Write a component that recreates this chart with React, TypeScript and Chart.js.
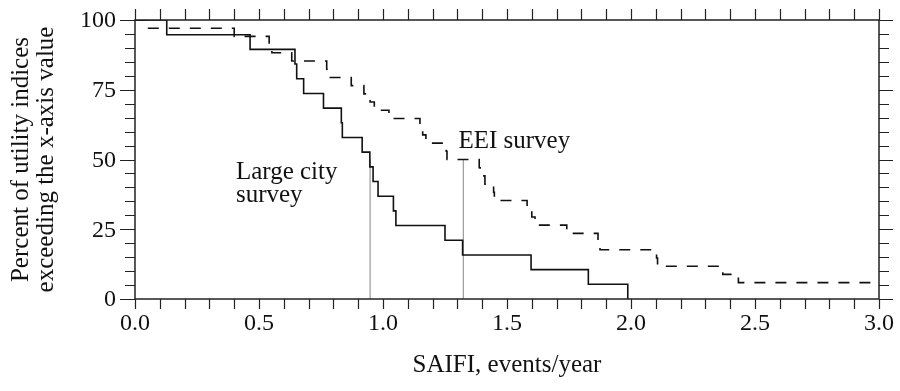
import React, { useEffect, useRef } from 'react';
import { Chart, registerables } from 'chart.js';

Chart.register(...registerables);

const FONT = '"Liberation Serif", "Times New Roman", serif';

// Large city survey: SAIFI value where the curve steps, and percent exceeding after the step
const largeCityX = [0, 0.128, 0.464, 0.645, 0.652, 0.680, 0.760, 0.832, 0.836, 0.916, 0.947, 0.960, 0.980, 1.042, 1.052, 1.250, 1.321, 1.597, 1.828, 1.987];
const largeCityPct = [100, 94.74, 89.47, 84.21, 78.95, 73.68, 68.42, 63.16, 57.89, 52.63, 47.37, 42.11, 36.84, 31.58, 26.32, 21.05, 15.79, 10.53, 5.26, 0];

// EEI survey
const eeiX = [0, 0.05, 0.40, 0.541, 0.552, 0.632, 0.773, 0.780, 0.872, 0.923, 0.948, 0.965, 1.024, 1.149, 1.160, 1.173, 1.255, 1.258, 1.388, 1.392, 1.411, 1.446, 1.449, 1.581, 1.600, 1.613, 1.741, 1.867, 1.875, 2.103, 2.107, 2.370, 2.433, 3.0];
const eeiPct = [100, 97.06, 94.12, 91.18, 88.24, 85.29, 82.35, 79.41, 76.47, 73.53, 70.59, 67.65, 64.71, 61.76, 58.82, 55.88, 52.94, 50.0, 47.06, 44.12, 41.18, 38.24, 35.29, 32.35, 29.41, 26.47, 23.53, 20.59, 17.65, 14.71, 11.76, 8.82, 5.88, 5.88];

// medians (grey markers up to 50 %)
const medianX = [0.948, 1.324];
const medianPct = 50;

// axis tick steps and labelled ticks
const xMinorStep = 0.1;
const yMinorStep = 5;
const xTickLabels = ['0.0', '0.5', '1.0', '1.5', '2.0', '2.5', '3.0'];
const yTickLabels = ['0', '25', '50', '75', '100'];

// text labels in data coordinates (baseline-left)
const labelTexts = ['Large city', 'survey', 'EEI survey'];
const labelX = [0.407, 0.407, 1.304];
const labelY = [43.0, 34.8, 54.0];

const xTitle = 'SAIFI, events/year';
const yTitle = ['Percent of utility indices', 'exceeding the x-axis value'];

const framePlugin = {
  id: 'frame',
  afterDraw(chart: any) {
    const { ctx, chartArea: a } = chart;
    const xs = chart.scales.x;
    const ys = chart.scales.y;
    ctx.save();
    ctx.strokeStyle = '#222';
    ctx.lineWidth = 1.5;
    ctx.strokeRect(a.left, a.top, a.right - a.left, a.bottom - a.top);
    ctx.lineWidth = 1.2;
    ctx.beginPath();
    for (const t of xs.ticks) {
      const px = Math.round(xs.getPixelForValue(t.value)) + 0.5;
      ctx.moveTo(px, a.bottom);
      ctx.lineTo(px, a.bottom + 10);
      ctx.moveTo(px, a.top);
      ctx.lineTo(px, a.top - 11);
    }
    for (const t of ys.ticks) {
      const py = Math.round(ys.getPixelForValue(t.value)) + 0.5;
      const major = Math.abs(t.value % 25) < 1e-6;
      ctx.moveTo(a.left, py);
      ctx.lineTo(a.left - (major ? 15 : 10), py);
      ctx.moveTo(a.right, py);
      ctx.lineTo(a.right + (major ? 14 : 10), py);
    }
    ctx.stroke();

    ctx.fillStyle = '#111';
    ctx.font = `24px ${FONT}`;
    ctx.textAlign = 'center';
    ctx.textBaseline = 'middle';
    xTickLabels.forEach((s) => {
      ctx.fillText(s, xs.getPixelForValue(Number(s)), a.bottom + 24.5);
    });
    ctx.textAlign = 'right';
    yTickLabels.forEach((s) => {
      ctx.fillText(s, a.left - 19, ys.getPixelForValue(Number(s)) + 1);
    });

    ctx.font = `25px ${FONT}`;
    ctx.textAlign = 'left';
    ctx.textBaseline = 'alphabetic';
    labelTexts.forEach((txt, i) => {
      ctx.fillText(txt, xs.getPixelForValue(labelX[i]), ys.getPixelForValue(labelY[i]));
    });
    ctx.restore();
  },
};

export default function App() {
  const ref = useRef<HTMLCanvasElement | null>(null);
  useEffect(() => {
    document.body.style.margin = '0';
    const canvas = ref.current;
    if (!canvas) return;
    const medianSets = medianX.map((m) => ({
      label: 'median',
      data: [{ x: m, y: 0 }, { x: m, y: medianPct }],
      borderColor: '#9a9a9a',
      borderWidth: 1.2,
      pointRadius: 0,
      fill: false,
      order: 5,
    }));
    const hidden = { grid: { display: false, drawTicks: false }, border: { display: false } };
    const chart = new Chart(canvas, {
      type: 'line',
      data: {
        datasets: [
          {
            label: 'Large city survey',
            data: largeCityX.map((x, i) => ({ x, y: largeCityPct[i] })),
            borderColor: '#111',
            borderWidth: 1.6,
            stepped: 'before',
            pointRadius: 0,
            fill: false,
            order: 1,
          },
          {
            label: 'EEI survey',
            data: eeiX.map((x, i) => ({ x, y: eeiPct[i] })),
            borderColor: '#111',
            borderWidth: 1.6,
            borderDash: [11, 10],
            stepped: 'before',
            pointRadius: 0,
            fill: false,
            order: 2,
          },
          ...medianSets,
        ] as any,
      },
      options: {
        animation: false,
        responsive: false,
        maintainAspectRatio: false,
        layout: { padding: 0 },
        plugins: { legend: { display: false }, tooltip: { enabled: false } },
        scales: {
          x: {
            type: 'linear',
            position: 'bottom',
            min: 0,
            max: 3,
            afterFit: (s: any) => { s.height = 92; },
            ...hidden,
            ticks: { display: false, stepSize: xMinorStep, autoSkip: false },
            title: {
              display: true,
              text: xTitle,
              color: '#111',
              font: { family: FONT, size: 25 },
              padding: { top: 0, bottom: 11 },
            },
          },
          x2: {
            type: 'linear',
            position: 'top',
            min: 0,
            max: 3,
            afterFit: (s: any) => { s.height = 20; },
            ...hidden,
            ticks: { display: false },
          },
          y: {
            type: 'linear',
            position: 'left',
            min: 0,
            max: 100,
            afterFit: (s: any) => { s.width = 135; },
            ...hidden,
            ticks: { display: false, stepSize: yMinorStep, autoSkip: false },
            title: {
              display: true,
              text: yTitle,
              color: '#111',
              font: { family: FONT, size: 25, lineHeight: 1.0 },
              padding: { top: 9, bottom: 0 },
            },
          },
          y2: {
            type: 'linear',
            position: 'right',
            min: 0,
            max: 100,
            afterFit: (s: any) => { s.width = 21; },
            ...hidden,
            ticks: { display: false },
          },
        },
      } as any,
      plugins: [framePlugin],
    });
    return () => chart.destroy();
  }, []);
  return (
    <div style={{ width: 900, height: 391 }}>
      <canvas ref={ref} width={900} height={391} />
    </div>
  );
}
